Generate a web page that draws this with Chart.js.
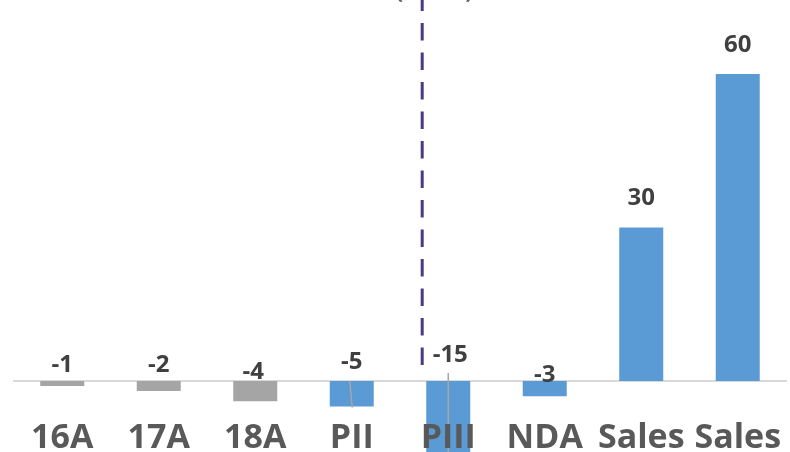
<!DOCTYPE html>
<html>
<head>
<meta charset="utf-8">
<script src="https://cdn.jsdelivr.net/npm/chart.js@4.4.1/dist/chart.umd.min.js"></script>
<style>
  html, body { margin: 0; padding: 0; background: #fff; }
  #wrap { width: 790px; height: 452px; }
</style>
</head>
<body>
<div id="wrap"><canvas id="chart"></canvas></div>
<script>
// categories and values
const categories = ['16A', '17A', '18A', 'PII', 'PIII', 'NDA', 'Sales', 'Sales'];
const values = [-1, -2, -4, -5, -15, -3, 30, 60];
const barColors = ['#A5A5A5', '#A5A5A5', '#A5A5A5', '#5B9BD5', '#5B9BD5', '#5B9BD5', '#5B9BD5', '#5B9BD5'];
const topNote = '(US$M)';

// value labels + the dashed divider + the thin leader lines
const extrasPlugin = {
    id: 'extras',
    afterDatasetsDraw(chart, args, opts) {
        const ctx = chart.ctx;
        const x = chart.scales.x;
        const y = chart.scales.y;
        const bars = chart.getDatasetMeta(0).data;
        const zero = y.getPixelForValue(0);

        // thin grey leader lines
        ctx.save();
        ctx.strokeStyle = '#A6A6A6';
        ctx.lineWidth = 1.5;
        ctx.beginPath();
        ctx.moveTo(bars[3].x - 2, zero);
        ctx.lineTo(bars[3].x + 0.5, bars[3].y + 1);
        ctx.moveTo(bars[4].x, zero - 8);
        ctx.lineTo(bars[4].x, chart.height);
        ctx.stroke();
        ctx.restore();

        // dashed divider just left of PIII
        const step = x.getPixelForValue(1) - x.getPixelForValue(0);
        const dx = x.getPixelForValue(4) - step * 0.27;
        ctx.save();
        ctx.strokeStyle = '#4B3A82';
        ctx.lineWidth = 3;
        ctx.setLineDash([17.5, 12]);
        ctx.lineDashOffset = 6.5;
        ctx.beginPath();
        ctx.moveTo(dx, 0);
        ctx.lineTo(dx, zero - 6);
        ctx.stroke();
        ctx.restore();

        // note cut off at the top
        ctx.save();
        ctx.fillStyle = '#595959';
        ctx.font = 'bold 22px "Open Sans"';
        ctx.textAlign = 'center';
        ctx.textBaseline = 'alphabetic';
        ctx.fillText(topNote, dx + 12, -2);
        ctx.restore();

        // value labels
        ctx.save();
        ctx.fillStyle = '#404040';
        ctx.font = 'bold 24px "Open Sans"';
        ctx.textAlign = 'center';
        ctx.textBaseline = 'middle';
        values.forEach((v, i) => {
            const b = bars[i];
            const ly = v >= 0 ? b.y - 29 : zero - opts.lift[i];
            ctx.fillText(String(v), b.x + opts.shift[i], ly);
        });
        ctx.restore();
    }
};

new Chart(document.getElementById('chart'), {
    type: 'bar',
    data: {
        labels: categories,
        datasets: [{
            data: values,
            backgroundColor: barColors,
            borderWidth: 0,
            barPercentage: 1,
            categoryPercentage: 0.456
        }]
    },
    options: {
        responsive: true,
        maintainAspectRatio: false,
        animation: false,
        layout: { padding: { left: 14, right: 4, top: 0, bottom: 0 } },
        plugins: {
            legend: { display: false },
            tooltip: { enabled: false },
            extras: {
                lift: [16, 16, 9, 19, 26, 6, 0, 0],
                shift: [0, 0, -2, 0, 2, 0, 0, 0]
            }
        },
        scales: {
            x: {
                position: { y: 0 },
                grid: { display: false, drawTicks: false },
                border: { display: true, color: '#D9D9D9', width: 2 },
                ticks: {
                    z: 1,
                    color: '#595959',
                    font: { family: 'Open Sans', size: 34, weight: 'bold' },
                    padding: 37,
                    maxRotation: 0,
                    autoSkip: false
                },
                afterFit(scale) {
                    scale.paddingLeft = 0;
                    scale.paddingRight = 0;
                }
            },
            y: {
                display: false,
                min: -13.9,
                max: 74.45
            }
        }
    },
    plugins: [extrasPlugin]
});
</script>
</body>
</html>
